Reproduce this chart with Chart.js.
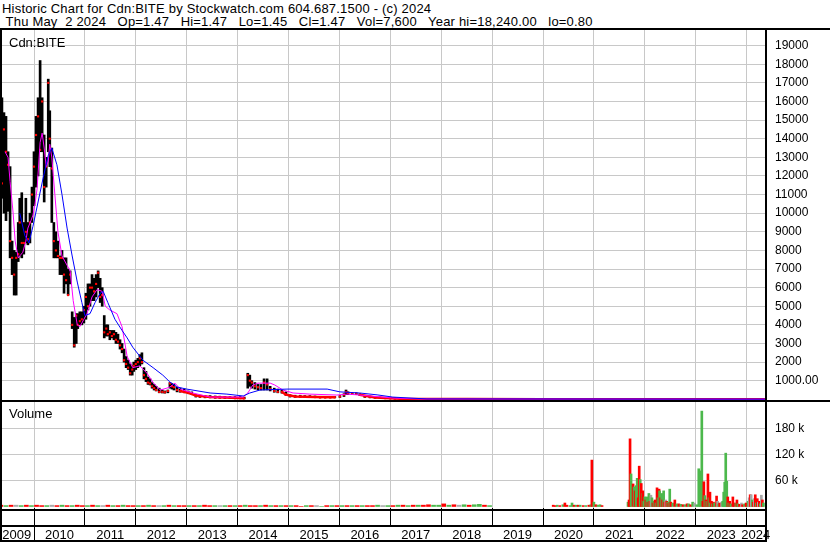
<!DOCTYPE html>
<html>
<head>
<meta charset="utf-8">
<script src="https://cdn.jsdelivr.net/npm/chart.js"></script>
<style>
    body { margin: 0; background: #fff; }
    #page { position: relative; width: 830px; height: 543px; overflow: hidden; background: #fff;
            font-family: "Liberation Sans", Arial, sans-serif; color: #000; }
    .hdr { position: absolute; left: 2px; font-size: 13px; line-height: 13px; white-space: pre; letter-spacing: 0.2px; }
    .lbl { position: absolute; font-size: 13px; line-height: 13px; }
    .ln { position: absolute; background: #000; }
    canvas { position: absolute; left: 0; }
</style>
</head>
<body>
<div id="page">
    <div class="hdr" style="top:2px">Historic Chart for Cdn:BITE by Stockwatch.com 604.687.1500 - (c) 2024</div>
    <div class="hdr" style="top:15px"> Thu May  2 2024   Op=1.47   Hi=1.47   Lo=1.45   Cl=1.47   Vol=7,600   Year hi=18,240.00   lo=0.80</div>

    <canvas id="priceChart" width="830" height="371" style="top:30px"></canvas>
    <canvas id="volChart" width="830" height="141" style="top:402px"></canvas>

    <div class="lbl" style="left:9px;top:36px">Cdn:BITE</div>
    <div class="lbl" style="left:9px;top:407px">Volume</div>

    <!-- frame -->
    <div class="ln" style="left:0;top:28px;width:830px;height:2px"></div>
    <div class="ln" style="left:0;top:28px;width:2px;height:514px"></div>
    <div class="ln" style="left:765px;top:28px;width:2px;height:514px"></div>
    <div class="ln" style="left:0;top:400px;width:830px;height:2px"></div>
    <div class="ln" style="left:0;top:509px;width:767px;height:2px"></div>
    <div class="ln" style="left:0;top:525px;width:767px;height:2px"></div>
    <div class="ln" style="left:0;top:540px;width:767px;height:2px"></div>
    <div class="ln" style="left:34px;top:525px;width:1px;height:16px"></div>
</div>

<script>
// ---- time axis (decimal years) ----
const X_MIN = 2009.332;
const X_MAX = 2024.381;
const yearBounds = [2010, 2011, 2012, 2013, 2014, 2015, 2016, 2017, 2018, 2019, 2020, 2021, 2022, 2023, 2024];
const yearLabelPos = [2009.66, 2010.5, 2011.5, 2012.5, 2013.5, 2014.5, 2015.5, 2016.5, 2017.5, 2018.5, 2019.5, 2020.5, 2021.5, 2022.5, 2023.5, 2024.18];
const yearLabels = ['2009', '2010', '2011', '2012', '2013', '2014', '2015', '2016', '2017', '2018', '2019', '2020', '2021', '2022', '2023', '2024'];

const priceTicks = [1000, 2000, 3000, 4000, 5000, 6000, 7000, 8000, 9000, 10000, 11000, 12000, 13000, 14000, 15000, 16000, 17000, 18000, 19000];
const volTicks = [60, 120, 180];

// ---- weekly-ish price bars ----
const priceYears = [
    2009.33, 2009.37, 2009.41, 2009.45, 2009.49, 2009.53, 2009.57, 2009.61, 2009.65, 2009.69,
    2009.72, 2009.76, 2009.80, 2009.84, 2009.88, 2009.92, 2009.96, 2010.00, 2010.04, 2010.08,
    2010.12, 2010.16, 2010.20, 2010.24, 2010.28, 2010.31, 2010.35, 2010.39, 2010.43, 2010.47,
    2010.51, 2010.55, 2010.59, 2010.63, 2010.67, 2010.71, 2010.75, 2010.79, 2010.83, 2010.86,
    2010.90, 2010.94, 2010.98, 2011.02, 2011.06, 2011.10, 2011.14, 2011.18, 2011.22, 2011.26,
    2011.30, 2011.34, 2011.38, 2011.42, 2011.45, 2011.49, 2011.53, 2011.57, 2011.61, 2011.65,
    2011.69, 2011.73, 2011.77, 2011.81, 2011.85, 2011.89, 2011.93, 2011.96, 2012.00, 2012.04,
    2012.08, 2012.12, 2012.16, 2012.20, 2012.24, 2012.28, 2012.32, 2012.36, 2012.40, 2012.46,
    2012.52, 2012.57, 2012.63, 2012.67, 2012.71, 2012.75, 2012.81, 2012.87, 2012.95, 2013.03,
    2013.10, 2013.18, 2013.26, 2013.36, 2013.46, 2013.56, 2013.65, 2013.75, 2013.85, 2013.95,
    2014.05, 2014.13, 2014.20, 2014.24, 2014.28, 2014.34, 2014.40, 2014.46, 2014.52, 2014.58,
    2014.64, 2014.72, 2014.79, 2014.87, 2014.95, 2015.03, 2015.13, 2015.23, 2015.32, 2015.42,
    2015.52, 2015.62, 2015.72, 2015.82, 2015.91, 2016.01, 2016.09, 2016.13, 2016.17, 2016.25,
    2016.33, 2016.40, 2016.50, 2016.60, 2016.70, 2016.80, 2016.90, 2017.00, 2017.09, 2017.19
];
const priceHigh = [
    16500, 16200, 15400, 15200, 13300, 12500, 8500, 8000, 7900, 9500,
    10800, 11100, 9500, 10800, 9500, 10000, 11400, 13300, 15200, 16200,
    18200, 16200, 14200, 13000, 17200, 15500, 13500, 9500, 9000, 8500,
    7700, 8000, 7600, 7600, 7000, 6900, 4700, 4400, 4600, 4600,
    4700, 4700, 5000, 5700, 6200, 6200, 6700, 6500, 6700, 6900,
    6500, 6000, 4500, 4000, 4000, 3700, 3700, 3700, 3600, 3500,
    3200, 3000, 2700, 2300, 2100, 1900, 1800, 2000, 2100, 2200,
    2400, 2500, 1700, 1500, 1200, 1100, 900, 800, 700, 600,
    500, 450, 500, 900, 850, 800, 650, 600, 550, 450,
    400, 250, 220, 200, 200, 180, 170, 160, 150, 150,
    150, 120, 1400, 1300, 1000, 900, 800, 800, 1100, 1100,
    700, 600, 550, 500, 400, 250, 220, 220, 200, 200,
    180, 150, 150, 150, 150, 200, 300, 500, 400, 350,
    350, 300, 200, 180, 150, 120, 100, 80, 60, 50
];
const priceLow = [
    11200, 10800, 10000, 9600, 10100, 7600, 6700, 5600, 5600, 7400,
    7700, 7600, 7800, 8400, 8300, 8400, 9500, 10400, 11400, 12000,
    13300, 13300, 10600, 11400, 13300, 12500, 9500, 7600, 7600, 7600,
    6700, 6700, 5700, 6200, 5600, 6200, 3800, 2800, 3000, 3800,
    4000, 4000, 4100, 4300, 4800, 5000, 5300, 5300, 5500, 6000,
    5200, 5000, 3300, 3400, 3400, 3200, 3300, 3200, 3000, 3000,
    2700, 2500, 2000, 1700, 1600, 1300, 1300, 1500, 1600, 1700,
    1800, 1900, 1100, 950, 800, 770, 600, 500, 450, 350,
    340, 330, 350, 600, 550, 500, 400, 380, 350, 300,
    250, 120, 100, 80, 80, 60, 60, 50, 50, 40,
    40, 30, 600, 700, 600, 550, 500, 500, 500, 500,
    450, 380, 350, 330, 200, 120, 100, 100, 100, 100,
    90, 80, 80, 80, 80, 100, 150, 250, 250, 250,
    250, 200, 100, 80, 60, 50, 40, 30, 20, 20
];
const priceClose = [
    15600, 11600, 14500, 13300, 12600, 8500, 7600, 6700, 7600, 7800,
    9500, 8400, 8400, 9000, 8600, 9500, 11000, 12500, 14200, 15200,
    13400, 16000, 11400, 12500, 17000, 14000, 12400, 8500, 8000, 7700,
    7600, 7600, 6700, 6400, 5600, 6700, 4000, 2900, 4500, 4000,
    4200, 4300, 4800, 5500, 5000, 6000, 6000, 5800, 6200, 6800,
    5500, 5600, 3600, 3800, 3500, 3600, 3400, 3500, 3200, 3100,
    2900, 2700, 2100, 1900, 1700, 1400, 1600, 1800, 1900, 2000,
    2200, 2000, 1300, 1100, 900, 850, 700, 600, 500, 400,
    400, 380, 450, 850, 700, 650, 500, 450, 400, 350,
    300, 200, 150, 150, 120, 100, 100, 100, 80, 60,
    60, 50, 1300, 1000, 900, 700, 650, 600, 900, 800,
    550, 450, 400, 400, 250, 180, 150, 150, 130, 130,
    120, 100, 100, 100, 110, 150, 250, 400, 350, 300,
    300, 250, 150, 120, 100, 80, 60, 50, 40, 30
];
// quiet stretches where the daily closes merge into a red band (null = break)
const quietYears = [
    2012.87, 2013.03, 2013.18, 2013.46, 2013.75, 2014.13, 2014.16,
    2014.87, 2014.95, 2015.13, 2015.52, 2015.91, 2015.95,
    2016.40, 2016.70, 2017.19, 2017.60, 2018.50, 2020.00, 2022.00, 2024.36
];
const quietClose = [
    450, 350, 200, 130, 100, 60, null,
    400, 250, 150, 120, 110, null,
    250, 100, 30, 20, 15, 10, 8, 5
];

// ---- moving averages ----
const maFastYears = [
    2009.43, 2009.49, 2009.53, 2009.59, 2009.63, 2009.69, 2009.72, 2009.78, 2009.84, 2009.88,
    2009.94, 2009.98, 2010.02, 2010.06, 2010.12, 2010.16, 2010.20, 2010.24, 2010.28, 2010.31,
    2010.35, 2010.41, 2010.47, 2010.55, 2010.65, 2010.71, 2010.77, 2010.85, 2010.90, 2010.98,
    2011.04, 2011.14, 2011.24, 2011.34, 2011.40, 2011.49, 2011.63, 2011.73, 2011.83, 2011.94,
    2012.08, 2012.22, 2012.34, 2012.48, 2012.61, 2012.67, 2012.77, 2012.87, 2013.12, 2013.46,
    2014.11, 2014.20, 2014.30, 2014.40, 2014.64, 2014.73, 2014.89, 2015.09, 2015.42, 2015.95,
    2016.15, 2016.40, 2017.05, 2017.58, 2024.36
];
const maFast = [
    13300, 13000, 11700, 10000, 8500, 7600, 7700, 7900, 8500, 9200,
    9600, 9900, 10500, 11300, 13800, 14300, 13500, 12500, 12800, 13700,
    13000, 11000, 9000, 7700, 7200, 6900, 5300, 4000, 3900, 4300,
    4600, 5500, 5900, 5800, 5000, 4800, 4600, 3900, 2300, 1700,
    1800, 1400, 900, 500, 600, 660, 870, 550, 340, 120,
    120, 340, 770, 870, 870, 770, 500, 340, 280, 230,
    280, 230, 70, 20, 5
];
const maSlowYears = [
    2009.72, 2009.82, 2009.90, 2009.98, 2010.08, 2010.18, 2010.28, 2010.35, 2010.45, 2010.55,
    2010.65, 2010.75, 2010.85, 2010.94, 2011.00, 2011.10, 2011.20, 2011.30, 2011.36, 2011.45,
    2011.59, 2011.73, 2011.83, 2011.94, 2012.14, 2012.34, 2012.53, 2012.67, 2012.81, 2013.00,
    2013.46, 2013.79, 2014.11, 2014.24, 2014.44, 2014.97, 2015.76, 2016.01, 2016.40, 2016.74,
    2017.05, 2017.72, 2024.36
];
const maSlow = [
    10000, 8800, 8400, 9300, 10600, 11900, 13100, 13500, 12600, 11000,
    9200, 7700, 6300, 5200, 4500, 4600, 5200, 5700, 5800, 5200,
    4300, 3700, 3300, 2800, 2100, 1700, 1300, 930, 660, 550,
    340, 280, 180, 340, 500, 550, 550, 400, 340, 240,
    120, 20, 10
];

// ---- volume (thousands of shares) ----
const volEarlyYears = [
    2009.35, 2009.45, 2009.55, 2009.65, 2009.75, 2009.85, 2009.95,
    2010.05, 2010.15, 2010.25, 2010.35, 2010.45, 2010.55, 2010.65, 2010.75, 2010.85, 2010.95,
    2011.05, 2011.15, 2011.25, 2011.35, 2011.45, 2011.55, 2011.65, 2011.75, 2011.85, 2011.95,
    2012.05, 2012.15, 2012.25, 2012.35, 2012.45, 2012.55, 2012.65, 2012.75, 2012.85, 2012.95,
    2013.05, 2013.15, 2013.25, 2013.35, 2013.45, 2013.55, 2013.65, 2013.75, 2013.85, 2013.95,
    2014.05, 2014.15, 2014.25, 2014.35, 2014.45, 2014.55, 2014.65, 2014.75, 2014.85, 2014.95,
    2015.05, 2015.15, 2015.25, 2015.35, 2015.45, 2015.55, 2015.65, 2015.75, 2015.85, 2015.95,
    2016.05, 2016.15, 2016.25, 2016.35, 2016.45, 2016.55, 2016.65, 2016.75, 2016.85, 2016.95,
    2017.05, 2017.15, 2017.25, 2017.35, 2017.45, 2017.55, 2017.65, 2017.75, 2017.85, 2017.95,
    2018.05, 2018.15, 2018.25, 2018.35, 2018.45, 2018.55, 2018.65, 2018.75, 2018.85, 2018.95
];
const volEarly = [
    3, 2, 3, 3, 2, 3, 2,
    3, 2, 2, 3, 2, 3, 2, 2, 3, 2,
    2, 3, 2, 2, 3, 2, 2, 3, 2, 2,
    2, 2, 3, 2, 2, 2, 3, 2, 2, 2,
    2, 2, 2, 3, 2, 2, 2, 2, 2, 2,
    2, 3, 2, 2, 2, 3, 2, 2, 2, 2,
    2, 2, 0, 2, 2, 2, 0, 2, 2, 2,
    2, 2, 2, 2, 2, 2, 2, 3, 2, 2,
    2, 3, 3, 2, 3, 3, 3, 4, 3, 3,
    6, 3, 4, 3, 4, 3, 4, 5, 3, 2
];
const volEarlyColor = 'rgrngrgrrgnrgrgrrgrgnrgrgrrgrgrngrgrrgrgrrgngrgrgrrgrgrgrgrrgrngrgrgrgrgrrgngrgrgrgrrggrgrngrgg'.split('');

const volYears = [
    2020.20, 2020.24, 2020.28, 2020.33, 2020.39, 2020.43, 2020.47, 2020.53, 2020.57, 2020.61,
    2020.65, 2020.69, 2020.73, 2020.79, 2020.84, 2020.90, 2020.94, 2020.96, 2021.00, 2021.04,
    2021.08, 2021.12, 2021.16, 2021.67, 2021.69, 2021.71, 2021.73, 2021.77, 2021.79, 2021.81,
    2021.83, 2021.85, 2021.87, 2021.89, 2021.91, 2021.93, 2021.95, 2021.96, 2021.98, 2022.00,
    2022.02, 2022.04, 2022.06, 2022.08, 2022.10, 2022.12, 2022.14, 2022.16, 2022.18, 2022.20,
    2022.22, 2022.24, 2022.26, 2022.28, 2022.29, 2022.31, 2022.33, 2022.35, 2022.37, 2022.39,
    2022.41, 2022.43, 2022.45, 2022.47, 2022.49, 2022.51, 2022.55, 2022.59, 2022.63, 2022.67,
    2022.71, 2022.75, 2022.79, 2022.83, 2022.86, 2022.90, 2022.94, 2022.98, 2023.02, 2023.06,
    2023.08, 2023.12, 2023.14, 2023.16, 2023.18, 2023.20, 2023.22, 2023.24, 2023.26, 2023.28,
    2023.29, 2023.31, 2023.33, 2023.35, 2023.37, 2023.41, 2023.43, 2023.45, 2023.47, 2023.51,
    2023.53, 2023.55, 2023.57, 2023.59, 2023.61, 2023.63, 2023.65, 2023.67, 2023.69, 2023.73,
    2023.75, 2023.79, 2023.81, 2023.83, 2023.86, 2023.90, 2023.92, 2023.96, 2023.99, 2024.03,
    2024.05, 2024.07, 2024.09, 2024.11, 2024.13, 2024.15, 2024.17, 2024.19, 2024.21, 2024.23,
    2024.25, 2024.27, 2024.29, 2024.31, 2024.33
];
const volK = [
    3, 2, 3, 2, 4, 8, 3, 2, 8, 3,
    3, 3, 3, 2, 2, 3, 4, 107, 10, 4,
    3, 4, 2, 10, 15, 156, 75, 52, 45, 36,
    48, 65, 20, 93, 62, 53, 30, 36, 12, 22,
    15, 22, 10, 30, 12, 26, 20, 8, 12, 15,
    8, 43, 20, 40, 36, 20, 30, 15, 36, 10,
    15, 12, 10, 8, 40, 10, 8, 15, 6, 6,
    5, 4, 4, 6, 6, 4, 10, 8, 4, 87,
    82, 220, 12, 57, 25, 15, 12, 75, 20, 33,
    8, 12, 6, 10, 8, 24, 12, 6, 8, 10,
    12, 33, 56, 123, 58, 22, 8, 12, 6, 22,
    8, 8, 15, 6, 5, 8, 4, 6, 8, 12,
    20, 27, 27, 15, 10, 18, 27, 8, 18, 10,
    12, 6, 26, 15, 8
];
const volColor = [
    'r', 'r', 'g', 'r', 'g', 'r', 'r', 'g', 'g', 'r',
    'g', 'r', 'g', 'r', 'g', 'r', 'g', 'r', 'g', 'r',
    'g', 'g', 'r', 'g', 'r', 'r', 'g', 'r', 'g', 'r',
    'g', 'g', 'r', 'r', 'g', 'r', 'g', 'r', 'g', 'g',
    'r', 'g', 'r', 'g', 'r', 'n', 'g', 'r', 'g', 'r',
    'g', 'r', 'g', 'r', 'g', 'r', 'g', 'r', 'g', 'r',
    'n', 'r', 'g', 'r', 'g', 'r', 'g', 'r', 'g', 'r',
    'g', 'r', 'g', 'r', 'g', 'r', 'g', 'n', 'g', 'g',
    'g', 'g', 'r', 'r', 'g', 'r', 'g', 'r', 'g', 'r',
    'g', 'r', 'g', 'r', 'g', 'r', 'n', 'g', 'r', 'n',
    'g', 'g', 'g', 'g', 'g', 'r', 'g', 'r', 'g', 'r',
    'r', 'g', 'r', 'g', 'r', 'n', 'r', 'g', 'r', 'g',
    'n', 'r', 'n', 'g', 'r', 'n', 'r', 'g', 'r', 'n',
    'r', 'g', 'n', 'r', 'g'
];

// ---- styling ----
const GRID = '#c8c8c8';
const FONT = '"Liberation Sans", Arial, sans-serif';
const volPalette = { r: '#ff0000', g: '#4cb84c', n: '#a8a8a8' };

Chart.defaults.font.family = FONT;
Chart.defaults.color = '#000';

const baseOptions = {
    responsive: false,
    animation: false,
    devicePixelRatio: 1,
    layout: { padding: 0, autoPadding: false },
    plugins: { legend: { display: false }, tooltip: { enabled: false } }
};

// keep tick labels from shrinking the plot area
const noPadding = axis => {
    axis.paddingTop = 0;
    axis.paddingBottom = 0;
    axis.paddingLeft = 0;
    axis.paddingRight = 0;
};

const rightAxis = (ticks, min, max, label) => ({
    position: 'right',
    min: min,
    max: max,
    afterBuildTicks: axis => { axis.ticks = ticks.map(v => ({ value: v })); },
    afterFit: axis => { axis.width = 64; noPadding(axis); },
    grid: { color: GRID, lineWidth: 1, drawTicks: false },
    border: { display: false },
    ticks: { padding: 9, font: { size: 12 }, color: '#000', callback: label }
});

// price panel
new Chart(document.getElementById('priceChart'), {
    type: 'bar',
    data: {
        datasets: [
            {
                type: 'line', order: 1,
                data: maSlowYears.map((x, i) => ({ x, y: maSlow[i] })),
                borderColor: '#0000ff', borderWidth: 1, pointRadius: 0
            },
            {
                type: 'line', order: 2,
                data: maFastYears.map((x, i) => ({ x, y: maFast[i] })),
                borderColor: '#ff00ff', borderWidth: 1, pointRadius: 0
            },
            {
                type: 'line', order: 3,
                data: priceYears.map((x, i) => ({ x, y: priceClose[i] })),
                showLine: false, pointStyle: 'rect', pointRadius: 1.5,
                pointBackgroundColor: '#ff0000', pointBorderWidth: 0
            },
            {
                type: 'line', order: 3,
                data: quietYears.map((x, i) => ({ x, y: quietClose[i] })),
                borderColor: '#ff0000', borderWidth: 2.5, pointRadius: 0, spanGaps: false
            },
            {
                type: 'bar', order: 4,
                data: priceYears.map((x, i) => ({ x, y: [priceLow[i], priceHigh[i]] })),
                backgroundColor: '#000', barThickness: 2, grouped: false
            }
        ]
    },
    options: {
        ...baseOptions,
        scales: {
            x: {
                type: 'linear', min: X_MIN, max: X_MAX, offset: false,
                afterBuildTicks: axis => { axis.ticks = yearBounds.map(v => ({ value: v })); },
                afterFit: axis => { axis.height = 0; noPadding(axis); },
                grid: { color: GRID, drawTicks: false, offset: false },
                border: { display: false },
                ticks: { display: false }
            },
            y: rightAxis(priceTicks, -90, 19840, v => (v === 1000 ? '1000.00' : String(v)))
        }
    }
});

// volume panel; two bottom axes: year-boundary tick strip, then the year names
new Chart(document.getElementById('volChart'), {
    type: 'bar',
    data: {
        datasets: [
            {
                data: volEarlyYears.map((x, i) => ({ x, y: volEarly[i] })),
                backgroundColor: volEarlyColor.map(c => volPalette[c]),
                barThickness: 4, grouped: false
            },
            {
                data: volYears.map((x, i) => ({ x, y: volK[i] })),
                backgroundColor: volColor.map(c => volPalette[c]),
                barThickness: 2, grouped: false
            }
        ]
    },
    options: {
        ...baseOptions,
        scales: {
            x: {
                type: 'linear', position: 'bottom', min: X_MIN, max: X_MAX, offset: false,
                afterBuildTicks: axis => { axis.ticks = yearBounds.map(v => ({ value: v })); },
                afterFit: axis => { axis.height = 17; noPadding(axis); },
                grid: { offset: false, color: GRID, tickColor: '#000', tickWidth: 1, tickLength: 17 },
                border: { display: false },
                ticks: { display: false }
            },
            years: {
                type: 'linear', position: 'bottom', min: X_MIN, max: X_MAX, offset: false,
                afterBuildTicks: axis => { axis.ticks = yearLabelPos.map(v => ({ value: v })); },
                afterFit: axis => { axis.height = 18; noPadding(axis); },
                grid: { display: false, drawTicks: false },
                border: { display: false },
                ticks: {
                    autoSkip: false, maxRotation: 0, minRotation: 0, padding: 3,
                    font: { size: 13 }, color: '#000',
                    callback: v => yearLabels[yearLabelPos.indexOf(v)]
                }
            },
            y: rightAxis(volTicks, -3.5, 241, v => v + ' k')
        }
    }
});
</script>
</body>
</html>
